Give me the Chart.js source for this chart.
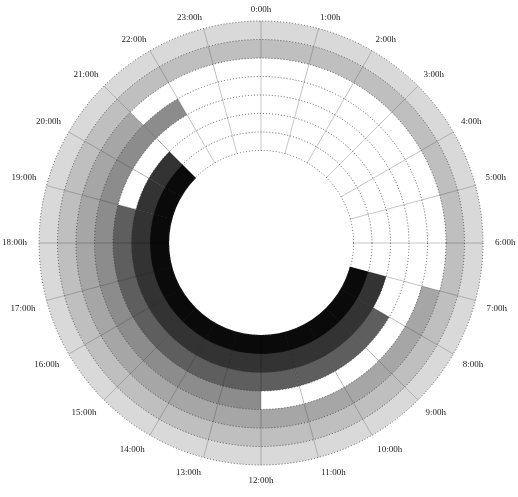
<!DOCTYPE html>
<html>
<head>
<meta charset="utf-8">
<script src="https://cdn.jsdelivr.net/npm/chart.js@4.4.1/dist/chart.umd.min.js"></script>
<style>
  html, body { margin: 0; padding: 0; background: #fff; }
  #wrap { width: 518px; height: 497px; }
</style>
</head>
<body>
<div id="wrap"><canvas id="clockChart"></canvas></div>
<script>
const hourLabels = ['0:00h', '1:00h', '2:00h', '3:00h', '4:00h', '5:00h',
  '6:00h', '7:00h', '8:00h', '9:00h', '10:00h', '11:00h',
  '12:00h', '13:00h', '14:00h', '15:00h', '16:00h', '17:00h',
  '18:00h', '19:00h', '20:00h', '21:00h', '22:00h', '23:00h'];

// one ring per entry, outermost first; filled from start hour up to end hour
const ringStart = [0, 0, 7, 12, 8, 7, 7];
const ringEnd = [24, 24, 21, 22, 19, 21, 21];
const ringColors = ['#d9d9d9', '#bfbfbf', '#a6a6a6', '#8c8c8c', '#5e5e5e', '#333333', '#0a0a0a'];

const holeSize = 5;    // empty radial units in the middle
const outerValue = 12; // radius of the outermost ring

const datasets = ringColors.map((color, k) => {
  const value = outerValue - k;
  return {
    data: hourLabels.map(() => value),
    backgroundColor: hourLabels.map((_, h) => (h >= ringStart[k] && h < ringEnd[k]) ? color : '#ffffff'),
    borderWidth: 0,
    order: value // outer rings first, inner ones painted over them
  };
});

// labels sit a bit closer at the top than at the bottom and sides
function labelPadding(i) {
  const c = Math.cos(i * Math.PI / 12);
  return c > 0 ? 12 - 6 * c : 12 + 2 * c;
}

// wipe the spokes out of the centre, keeping the dotted inner circle
const holePlugin = {
  id: 'hole',
  afterDraw(chart) {
    const scale = chart.scales.r;
    const radius = scale.getDistanceFromCenterForValue(holeSize);
    const ctx = chart.ctx;
    ctx.save();
    ctx.beginPath();
    ctx.arc(scale.xCenter, scale.yCenter, radius - 0.6, 0, Math.PI * 2);
    ctx.fillStyle = '#ffffff';
    ctx.fill();
    ctx.restore();
  }
};

const ctx = document.getElementById('clockChart').getContext('2d');
new Chart(ctx, {
  type: 'polarArea',
  data: {
    labels: hourLabels,
    datasets: datasets
  },
  plugins: [holePlugin],
  options: {
    responsive: true,
    maintainAspectRatio: false,
    animation: false,
    layout: { padding: { left: -4, right: -4, bottom: 6 } },
    plugins: {
      legend: { display: false },
      tooltip: { enabled: false }
    },
    scales: {
      r: {
        min: 0,
        max: outerValue,
        startAngle: 0,
        ticks: { stepSize: 1, display: false },
        grid: {
          z: 1,
          circular: true,
          lineWidth: 1,
          color: (c) => (c.tick && c.tick.value >= holeSize) ? 'rgba(50,50,50,0.75)' : 'transparent'
        },
        border: { dash: [1, 2] },
        angleLines: {
          display: true,
          color: 'rgba(0,0,0,0.22)',
          lineWidth: 1
        },
        pointLabels: {
          display: true,
          centerPointLabels: false,
          color: '#222',
          font: { family: 'Liberation Serif', size: 9 },
          padding: (c) => labelPadding(c.index)
        }
      }
    }
  }
});
</script>
</body>
</html>
